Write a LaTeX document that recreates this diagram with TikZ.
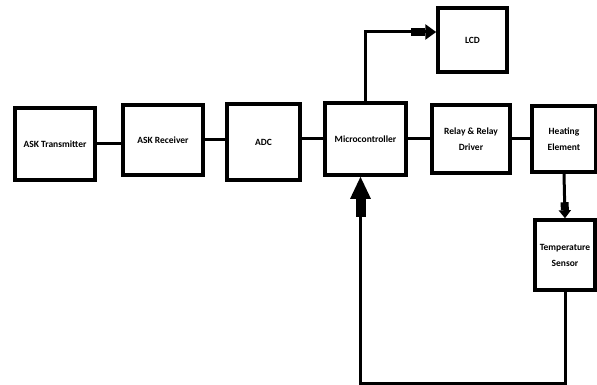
\documentclass[tikz,border=0pt]{standalone}
\usepackage{fontspec}
\setmainfont{Carlito}
\usetikzlibrary{arrows.meta}

\begin{document}
\begin{tikzpicture}[x=1pt,y=-1pt,
    block/.style={draw, line width=3.5pt, fill=white, inner sep=0pt, align=center,
                  font=\bfseries\fontsize{9.5}{16}\selectfont},
    wire/.style={line width=3pt},
    bigtip/.style={-{Rectangle[length=14pt,width=8pt]Triangle[length=11pt,width=15pt]}},
    hugetip/.style={-{Rectangle[length=18pt,width=10pt]Triangle[length=22pt,width=20pt]}},
    smalltip/.style={-{Rectangle[length=8pt,width=8pt]Triangle[length=8pt,width=12pt]}}]
        \useasboundingbox (0,0) rectangle (597,385);

        % blocks
        \node[block, minimum width=80pt, minimum height=72pt] (tx) at (55,144) {ASK Transmitter};
        \node[block, minimum width=80pt, minimum height=70pt] (rx) at (163,140) {ASK Receiver};
        \node[block, minimum width=73pt, minimum height=76pt] (adc) at (263.5,142) {ADC};
        \node[block, minimum width=81pt, minimum height=72pt] (mc) at (365.5,139) {Microcontroller};
        \node[block, minimum width=69pt, minimum height=64pt] (lcd) at (472.5,40) {LCD};
        \node[block, minimum width=78pt, minimum height=68pt] (relay) at (471,139) {Relay \& Relay\\Driver};
        \node[block, minimum width=64pt, minimum height=66pt] (heat) at (564,139) {Heating\\Element};
        \node[block, minimum width=60pt, minimum height=70pt] (temp) at (565,255) {Temperature\\Sensor};

        \coordinate (bottom) at (0,383);

        % connectors
        \draw[wire] (tx.east) -- (tx.east -| rx.west);
        \draw[wire] (rx.east) -- (rx.east -| adc.west);
        \draw[wire] (mc.west -| adc.east) -- (mc.west);
        \draw[wire] (mc.east) -- (mc.east -| relay.west);
        \draw[wire] (relay.east) -- (relay.east -| heat.west);
        \draw[wire, bigtip] (mc.north) |- ([yshift=8pt]lcd.west);
        \draw[wire, smalltip] (heat.south) -- (temp.north);
        \draw[wire, hugetip] (temp.south) -- (temp.south |- bottom) -| ([xshift=-5pt]mc.south);
\end{tikzpicture}
\end{document}
